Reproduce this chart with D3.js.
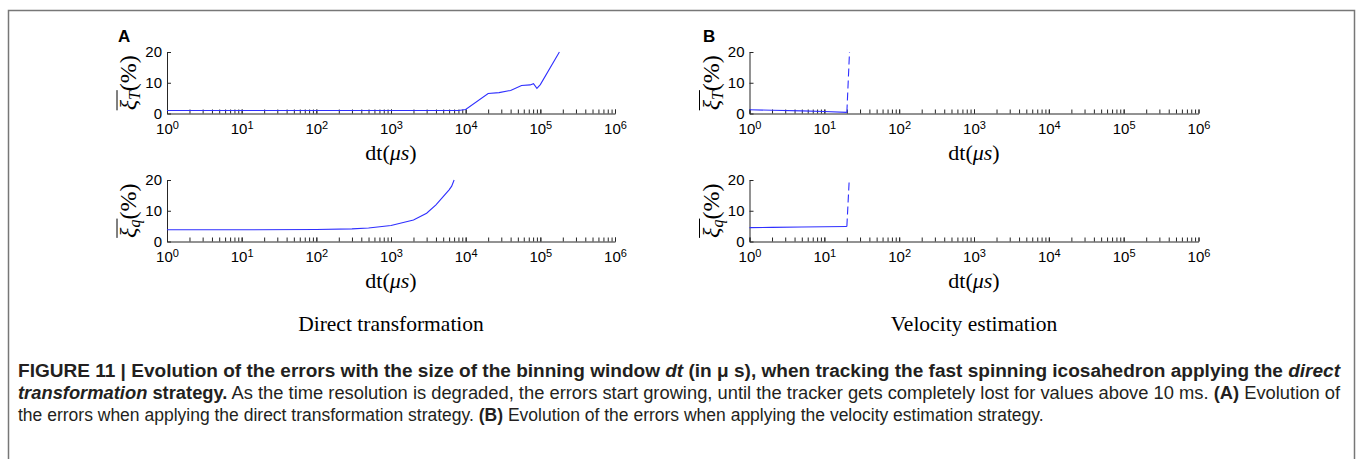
<!DOCTYPE html>
<html>
<head>
<meta charset="utf-8">
<script src="https://cdn.jsdelivr.net/npm/d3@7"></script>
<style>
  body { margin: 0; background: #fff; }
  .axis path, .axis line { stroke: #262626; stroke-width: 1; }
  .axis text { font-family: "Liberation Sans", Arial, sans-serif; font-size: 15px; fill: #000; }
</style>
</head>
<body>
<svg id="fig" width="1357" height="459"></svg>
<script>
// Panel A (direct transformation): dt in microseconds, errors in %
var dtA_T  = [1, 10, 100, 1000, 5000, 8000, 10000, 20000, 28000, 40000, 56000, 73000, 81000, 90000, 100000, 180000];
var errA_T = [1.0, 1.0, 1.0, 1.0, 1.0, 1.0, 1.3, 6.5, 6.8, 7.5, 9.1, 9.3, 9.7, 8.2, 9.4, 20];
var dtA_q  = [1, 10, 100, 300, 500, 1000, 2000, 3000, 4000, 5000, 6000, 6500, 7000];
var errA_q = [3.8, 3.8, 3.9, 4.1, 4.4, 5.2, 7.0, 9.2, 11.9, 14.6, 16.8, 18.0, 20];

// Panel B (velocity estimation): solid part, then dashed jump when lost
var dtB_T  = [1, 2, 5, 10, 20];
var errB_T = [1.2, 1.05, 0.85, 0.65, 0.35];
var dtB_Tlost  = [20, 21.7];
var errB_Tlost = [0.35, 20];
var dtB_q  = [1, 2, 5, 10, 20];
var errB_q = [4.5, 4.6, 4.7, 4.8, 4.9];
var dtB_qlost  = [20, 21.5];
var errB_qlost = [4.9, 20];

var xTicks = [1, 10, 100, 1000, 10000, 100000, 1000000];
var yTicks = [0, 10, 20];
var panelLetters = ["A", "B"];
var panelTitles = ["Direct transformation", "Velocity estimation"];

var svg = d3.select("#fig");
svg.append("rect").attr("width", 1357).attr("height", 459).attr("fill", "#fff");

// Frame around the figure (open at the bottom, cropped)
svg.append("path")
    .attr("d", "M8.5,470 V10.5 H1354.5 V470")
    .attr("fill", "none")
    .attr("stroke", "#777")
    .attr("stroke-width", 1.5);

var serif = "\"Liberation Serif\", \"DejaVu Serif\", serif";

// Minor log ticks 1..9 in every decade
var minorTicks = [];
for (var e = 0; e < 6; e++) {
    for (var m = 1; m < 10; m++) minorTicks.push(m * Math.pow(10, e));
}
minorTicks.push(1e6);

function drawPanel(left, right, top, bottom, yName, series) {
    var x = d3.scaleLog().domain([1, 1e6]).range([left, right]);
    var y = d3.scaleLinear().domain([0, 20]).range([bottom, top]);

    // x axis: minor ticks, then labelled decades
    svg.append("g")
        .attr("class", "axis")
        .attr("transform", "translate(0," + bottom + ")")
        .call(d3.axisBottom(x).tickValues(minorTicks).tickSize(-4).tickSizeOuter(0).tickFormat(""));

    var gx = svg.append("g")
        .attr("class", "axis")
        .attr("transform", "translate(0," + bottom + ")")
        .call(d3.axisBottom(x).tickValues(xTicks).tickSize(-4).tickSizeOuter(0).tickPadding(10));
    gx.select(".domain").remove();
    gx.selectAll(".tick text").each(function(d) {
        var t = d3.select(this).text("10");
        t.append("tspan")
            .attr("dy", "-0.5em")
            .attr("font-size", "11px")
            .text(Math.round(Math.log10(d)));
    });

    // y axis
    svg.append("g")
        .attr("class", "axis")
        .attr("transform", "translate(" + left + ",0)")
        .call(d3.axisLeft(y).tickValues(yTicks).tickSize(-4).tickSizeOuter(0).tickPadding(5));

    // x label dt(μs)
    var xl = svg.append("text")
        .attr("x", (left + right) / 2)
        .attr("y", bottom + 46)
        .attr("text-anchor", "middle")
        .attr("font-family", serif)
        .attr("font-size", 22);
    xl.append("tspan").text("dt(");
    xl.append("tspan").attr("font-style", "italic").text("μs");
    xl.append("tspan").text(")");

    // y label: overlined ξ with subscript, then (%)
    var g = svg.append("g")
        .attr("transform", "translate(" + (left - 31) + "," + ((top + bottom) / 2) + ") rotate(-90)");
    var yl = g.append("text")
        .attr("text-anchor", "middle")
        .attr("font-family", serif)
        .attr("font-size", 24);
    yl.append("tspan").attr("font-style", "italic").text("ξ");
    yl.append("tspan").attr("font-style", "italic").attr("font-size", 16).attr("dy", 4).text(yName);
    yl.append("tspan").attr("dy", -4).text("(%)");
    var node = yl.node();
    var total = node.getComputedTextLength();
    var barLen = node.getSubStringLength(0, 2);
    g.append("line")
        .attr("x1", -total / 2).attr("x2", -total / 2 + barLen + 1)
        .attr("y1", -19).attr("y2", -19)
        .attr("stroke", "#000").attr("stroke-width", 1);

    var line = d3.line()
        .x(function(d) { return x(d[0]); })
        .y(function(d) { return y(d[1]); });

    series.forEach(function(s) {
        svg.append("path")
            .datum(d3.zip(s.dt, s.err))
            .attr("d", line)
            .attr("fill", "none")
            .attr("stroke", "#2f2fff")
            .attr("stroke-width", 1.1)
            .attr("stroke-dasharray", s.dashed ? "8,4" : null);
    });
}

drawPanel(167, 615, 52, 113.5, "T", [{dt: dtA_T, err: errA_T}]);
drawPanel(167, 615, 180, 241.5, "q", [{dt: dtA_q, err: errA_q}]);
drawPanel(749.5, 1198.5, 52, 113.5, "T", [{dt: dtB_T, err: errB_T}, {dt: dtB_Tlost, err: errB_Tlost, dashed: true}]);
drawPanel(749.5, 1198.5, 180, 241.5, "q", [{dt: dtB_q, err: errB_q}, {dt: dtB_qlost, err: errB_qlost, dashed: true}]);

// Panel letters and titles
[118, 703].forEach(function(px, i) {
    svg.append("text")
        .attr("x", px).attr("y", 42)
        .attr("font-family", "\"Liberation Sans\", Arial, sans-serif")
        .attr("font-weight", "bold")
        .attr("font-size", 17)
        .text(panelLetters[i]);
});
[391, 974].forEach(function(cx, i) {
    svg.append("text")
        .attr("x", cx).attr("y", 331)
        .attr("text-anchor", "middle")
        .attr("font-family", serif)
        .attr("font-size", 21.5)
        .text(panelTitles[i]);
});

// Caption
var captionLines = [
    [["FIGURE 11 | Evolution of the errors with the size of the binning window ", "b"], ["dt", "bi"],
     [" (in μ s), when tracking the fast spinning icosahedron applying the ", "b"], ["direct", "bi"]],
    [["transformation", "bi"], [" strategy.", "b"],
     [" As the time resolution is degraded, the errors start growing, until the tracker gets completely lost for values above 10 ms. ", "r"],
     ["(A)", "b"], [" Evolution of", "r"]],
    [["the errors when applying the direct transformation strategy. ", "r"], ["(B)", "b"],
     [" Evolution of the errors when applying the velocity estimation strategy.", "r"]]
];
captionLines.forEach(function(parts, i) {
    var t = svg.append("text")
        .attr("x", 18).attr("y", 377 + i * 22)
        .attr("font-family", "\"Liberation Sans\", Arial, sans-serif")
        .attr("font-size", 17.5)
        .attr("fill", "#231f20");
    parts.forEach(function(p) {
        t.append("tspan")
            .attr("font-weight", p[1] === "r" ? "normal" : "bold")
            .attr("font-style", p[1] === "bi" ? "italic" : "normal")
            .text(p[0]);
    });
    if (i < 2) t.attr("textLength", 1322).attr("lengthAdjust", "spacingAndGlyphs");
});
</script>
</body>
</html>
